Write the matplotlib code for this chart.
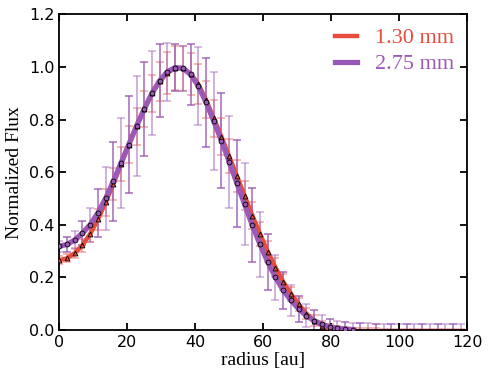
import numpy as np
import matplotlib
matplotlib.use('Agg')
import matplotlib.pyplot as plt

# radial sampling (au)
radius = [0.0, 2.27, 4.54, 6.81, 9.08, 11.35, 13.62, 15.89, 18.16, 20.43,
          22.7, 24.97, 27.24, 29.51, 31.78, 34.05, 36.32, 38.59, 40.86, 43.13,
          45.4, 47.67, 49.94, 52.21, 54.48, 56.75, 59.02, 61.29, 63.56, 65.83,
          68.1, 70.37, 72.64, 74.91, 77.18, 79.45, 81.72, 83.99, 86.26, 88.53,
          90.8, 93.07, 95.34, 97.61, 99.88, 102.15, 104.42, 106.69, 108.96, 111.23,
          113.5, 115.77, 118.04]

flux_130 = [0.265, 0.272, 0.292, 0.322, 0.365, 0.42, 0.485, 0.555, 0.63, 0.705,
            0.775, 0.84, 0.9, 0.945, 0.978, 0.996, 0.995, 0.975, 0.935, 0.875,
            0.805, 0.735, 0.66, 0.585, 0.51, 0.435, 0.365, 0.298, 0.237, 0.183,
            0.137, 0.097, 0.062, 0.035, 0.016, 0.006, 0.001, 0.0, 0.0, 0.0,
            0.0, 0.0, 0.0, 0.0, 0.0, 0.0, 0.0, 0.0, 0.0, 0.0,
            0.0, 0.0, 0.0]
err_130 = [0.015, 0.015, 0.02, 0.025, 0.03, 0.04, 0.05, 0.06, 0.065, 0.07,
           0.07, 0.07, 0.07, 0.075, 0.08, 0.085, 0.085, 0.08, 0.075, 0.07,
           0.07, 0.07, 0.065, 0.06, 0.055, 0.05, 0.045, 0.04, 0.035, 0.03,
           0.027, 0.025, 0.022, 0.02, 0.018, 0.015, 0.012, 0.01, 0.008, 0.006,
           0.006, 0.006, 0.005, 0.005, 0.005, 0.005, 0.005, 0.005, 0.005, 0.005,
           0.005, 0.005, 0.005]

flux_275 = [0.318, 0.325, 0.342, 0.368, 0.40, 0.445, 0.50, 0.565, 0.635, 0.705,
            0.775, 0.84, 0.90, 0.948, 0.982, 0.998, 0.995, 0.972, 0.928, 0.866,
            0.795, 0.72, 0.64, 0.558, 0.478, 0.398, 0.325, 0.258, 0.2, 0.151,
            0.112, 0.08, 0.054, 0.035, 0.021, 0.012, 0.006, 0.003, 0.001, 0.0,
            0.0, 0.0, 0.0, 0.0, 0.0, 0.0, 0.0, 0.0, 0.0, 0.0,
            0.0, 0.0, 0.0]
err_275 = [0.02, 0.028, 0.035, 0.045, 0.065, 0.09, 0.12, 0.15, 0.17, 0.185,
           0.19, 0.18, 0.16, 0.14, 0.11, 0.09, 0.085, 0.115, 0.15, 0.17,
           0.185, 0.18, 0.175, 0.165, 0.155, 0.14, 0.125, 0.105, 0.085, 0.07,
           0.06, 0.05, 0.045, 0.04, 0.035, 0.03, 0.027, 0.026, 0.025, 0.025,
           0.025, 0.024, 0.024, 0.024, 0.023, 0.023, 0.023, 0.023, 0.022, 0.022,
           0.022, 0.022, 0.022]

n_model = 39  # samples where the profile is drawn

red = '#e74c3c'
purple = '#9b59b6'

r = np.array(radius)
f1, e1 = np.array(flux_130), np.array(err_130)
f2, e2 = np.array(flux_275), np.array(err_275)

fig, ax = plt.subplots(figsize=(4.9, 3.8), dpi=100)
fig.subplots_adjust(left=0.121, right=0.954, bottom=0.132, top=0.962)

# error bars
ax.errorbar(r, f1, yerr=e1, fmt='none', ecolor=red, alpha=0.5, elinewidth=1.1, capsize=3, capthick=1.1, zorder=1)
ax.errorbar(r[0::2], f2[0::2], yerr=e2[0::2], fmt='none', ecolor=purple, alpha=0.5, elinewidth=1.3, capsize=3, capthick=1.1, zorder=1)
ax.errorbar(r[1::2], f2[1::2], yerr=e2[1::2], fmt='none', ecolor=purple, alpha=0.9, elinewidth=1.1, capsize=3, capthick=1.1, zorder=1)

# profiles
ax.plot(r[:n_model], f1[:n_model], color=red, lw=3.2, zorder=3, label='1.30 mm')
ax.plot(r[:n_model], f2[:n_model], color=purple, lw=3.8, zorder=4, label='2.75 mm')
ax.plot(r[:n_model], f1[:n_model], ls='none', marker='^', ms=3.5, mfc=red, mec='black', mew=0.6, zorder=5)
ax.plot(r[:n_model], f2[:n_model], ls='none', marker='o', ms=3.5, mfc=purple, mec='black', mew=0.6, zorder=6)

ax.set_xlim(0, 120)
ax.set_ylim(0, 1.2)
ax.set_xticks([0, 20, 40, 60, 80, 100, 120])
ax.set_yticks([0.0, 0.2, 0.4, 0.6, 0.8, 1.0, 1.2])
ax.tick_params(direction='in', top=True, right=True, length=5, width=1.3, labelsize=11.5)
for s in ax.spines.values():
    s.set_linewidth(1.3)

ax.set_xlabel('radius [au]', family='Liberation Serif', fontsize=14, labelpad=2)
ax.set_ylabel('Normalized Flux', family='Liberation Serif', fontsize=14, labelpad=4)

leg = ax.legend(loc='upper right', frameon=False, handlelength=1.0, handletextpad=0.8,
                prop={'family': 'Liberation Serif', 'size': 16}, borderaxespad=0.2, labelspacing=0.25)
for txt, c in zip(leg.get_texts(), [red, purple]):
    txt.set_color(c)

plt.savefig('out.png', dpi=100)
